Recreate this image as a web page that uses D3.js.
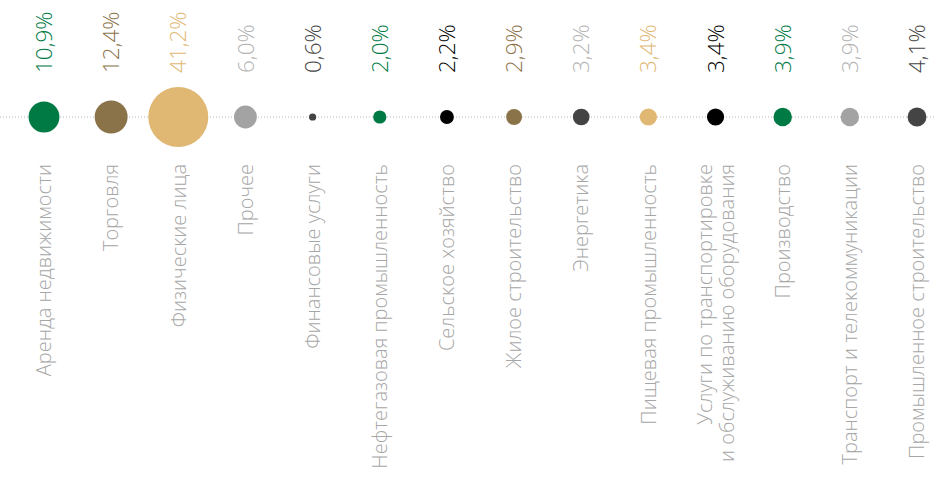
<html lang="ru">
<head>
<meta charset="utf-8">
<style>
body { margin: 0; background: #fff; }
text { font-family: "Open Sans", sans-serif; font-weight: 300; }
</style>
</head>
<body>
<script type='text/javascript' src='https://d3js.org/d3.v7.min.js'></script>
<script>
// categories (multi-line labels split by "|")
const categories = [
  "Аренда недвижимости",
  "Торговля",
  "Физические лица",
  "Прочее",
  "Финансовые услуги",
  "Нефтегазовая промышленность",
  "Сельское хозяйство",
  "Жилое строительство",
  "Энергетика",
  "Пищевая промышленность",
  "Услуги по транспортировке|и обслуживанию оборудования",
  "Производство",
  "Транспорт и телекоммуникации",
  "Промышленное строительство"
];
const values = [10.9, 12.4, 41.2, 6.0, 0.6, 2.0, 2.2, 2.9, 3.2, 3.4, 3.4, 3.9, 3.9, 4.1];
const valueLabels = ["10,9%", "12,4%", "41,2%", "6,0%", "0,6%", "2,0%", "2,2%", "2,9%", "3,2%", "3,4%", "3,4%", "3,9%", "3,9%", "4,1%"];

// colours
const dotColors = ["#007a45", "#8b7349", "#e0b874", "#a3a3a3", "#444444", "#007a45", "#000000",
  "#8b7349", "#444444", "#e0b874", "#000000", "#007a45", "#a3a3a3", "#444444"];
const valueColors = ["#007a45", "#8b7349", "#e0b874", "#b3b3b3", "#444444", "#007a45", "#000000",
  "#8b7349", "#b3b3b3", "#e0b874", "#000000", "#007a45", "#b3b3b3", "#444444"];

const width = 936, height = 477;
const lineY = 117;

const svg = d3.select("body").append("svg")
  .attr("width", width)
  .attr("height", height);

const x = d3.scalePoint()
  .domain(categories)
  .range([44, 917]);

const r = d3.scaleSqrt()
  .domain([0, d3.max(values)])
  .range([0, 30]);

const data = categories.map((c, i) => ({cat: c, value: values[i], label: valueLabels[i], i: i}));

// dotted baseline
svg.append("line")
  .attr("x1", 0).attr("x2", width)
  .attr("y1", lineY).attr("y2", lineY)
  .attr("stroke", "#b8b8b8")
  .attr("stroke-width", 1)
  .attr("stroke-dasharray", "1,2");

// circles
svg.selectAll("circle")
  .data(data)
  .enter().append("circle")
  .attr("cx", d => x(d.cat))
  .attr("cy", lineY)
  .attr("r", d => r(d.value))
  .attr("fill", d => dotColors[d.i]);

// values above
svg.selectAll(".val")
  .data(data)
  .enter().append("text")
  .attr("class", "val")
  .attr("transform", d => "translate(" + x(d.cat) + ",73) rotate(-90)")
  .attr("dy", "0.36em")
  .attr("font-size", 22.5)
  .attr("fill", d => valueColors[d.i])
  .text(d => d.label);

// category labels below
const cat = svg.selectAll(".cat")
  .data(data)
  .enter().append("text")
  .attr("class", "cat")
  .attr("transform", d => "translate(" + x(d.cat) + ",164) rotate(-90)")
  .attr("text-anchor", "end")
  .attr("font-size", 20)
  .attr("fill", "#a6a6a6");

cat.each(function(d) {
  const lines = d.cat.split("|");
  const t = d3.select(this);
  const off = -(lines.length - 1) * 11;
  lines.forEach((l, k) => {
    t.append("tspan")
      .attr("x", 0)
      .attr("y", off + k * 22)
      .attr("dy", "0.36em")
      .text(l);
  });
});
</script>
</body>
</html>
